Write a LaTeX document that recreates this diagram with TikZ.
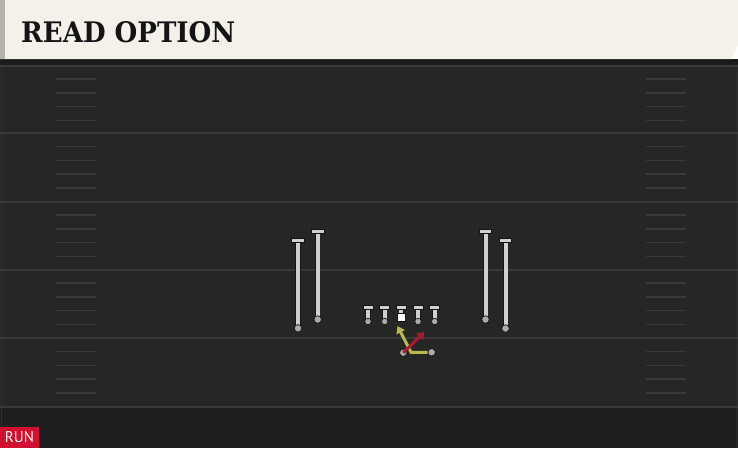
\documentclass[tikz,border=0pt]{standalone}
\usepackage{fontspec}
\usetikzlibrary{arrows.meta}
\newfontfamily\titlefont{DejaVu Serif}
\newfontfamily\runfont{PT Sans}
\definecolor{cream}{HTML}{F4F1EA}
\definecolor{stripgray}{HTML}{B4B2AC}
\definecolor{fieldbg}{HTML}{262626}
\definecolor{fieldlow}{HTML}{1F1F1F}
\definecolor{gapdark}{HTML}{1B1B1B}
\definecolor{yardcol}{HTML}{3A3A3A}
\definecolor{hashcol}{HTML}{3A3A3A}
\definecolor{runred}{HTML}{D0102E}
\definecolor{stemgray}{HTML}{D0D0D0}
\definecolor{ballgray}{HTML}{ABABAB}
\definecolor{outl}{HTML}{141414}
\definecolor{yroutecol}{HTML}{B9B950}
\definecolor{rroutecol}{HTML}{A51C30}
\begin{document}
\begin{tikzpicture}[x=1pt,y=-1pt,
  yardline/.style={draw=yardcol, line width=2pt},
  hashline/.style={draw=hashcol, line width=1.5pt},
  ball/.style={circle, fill=ballgray, draw=outl, line width=.7pt, minimum size=7.5pt, inner sep=0pt},
  smallball/.style={ball, minimum size=6.5pt},
  stemline/.style={draw=outl, line width=.7pt, double=stemgray, double distance=4pt},
  tbar/.style={rectangle, fill=stemgray, draw=outl, line width=.7pt, minimum width=12.5pt, minimum height=4.2pt, inner sep=0pt},
  smalltbar/.style={tbar, minimum width=10pt},
  centersq/.style={rectangle, fill=white, draw=outl, line width=.6pt, minimum size=7.5pt, inner sep=0pt},
  yroute/.style={draw=yroutecol, line width=3pt, -{Triangle[length=7pt,width=9pt]}},
  rroute/.style={draw=rroutecol, line width=3pt, -{Triangle[length=7pt,width=9pt]}},
  titlestyle/.style={inner sep=0pt, text=outl, font=\titlefont\bfseries},
  runbadge/.style={fill=runred, minimum width=39pt, minimum height=21pt, inner sep=0pt, text=white, font=\runfont}
]
\useasboundingbox (0,0) rectangle (738,448);
% field
\fill[gapdark] (0,59) rectangle (738,448);
\fill[fieldbg] (0,66) rectangle (738,407);
\fill[fieldlow] (0,407) rectangle (738,448);
\draw[draw=yardcol!45!fieldbg, line width=1pt] (1.5,66) -- (1.5,448);
\draw[draw=yardcol!45!fieldbg, line width=1pt] (736.5,66) -- (736.5,448);
\foreach \y in {65.5,133,201.5,269.5,338,407}
  \draw[yardline] (0,\y) -- (738,\y);
\foreach \y in {65.5,133,201.5,269.5,338}
  \foreach \k in {1,...,4} {
    \draw[hashline] (56,{\y+13.7*\k}) -- (96,{\y+13.7*\k});
    \draw[hashline] (646,{\y+13.7*\k}) -- (686,{\y+13.7*\k});
  }
% header
\fill[black!90] (0,59) rectangle (733,62);
\fill[cream] (0,0) -- (738,0) -- (738,45) -- (731,59) -- (0,59) -- cycle;
\fill[stripgray] (0,0) rectangle (5,59);
\node[titlestyle, anchor=base west] (title) at (21,42.5) {\resizebox{214pt}{21pt}{READ OPTION}};
% run badge
\node[runbadge] (run) at (19.5,437.5) {\resizebox{29pt}{11pt}{RUN}};
% receivers
\foreach \n/\x/\ty/\by in {wl1/298/240.5/328.3, wl2/317.7/231.3/319.5, wr1/485.5/231.3/319.5, wr2/505.5/240.5/328.5} {
  \coordinate (\n t) at (\x,\ty);
  \coordinate (\n b) at (\x,\by);
  \draw[stemline] (\n b) -- (\n t);
  \node[ball] (\n) at (\n b) {};
  \node[tbar] (\n bar) at (\n t) {};
}
% linemen
\foreach \n/\x in {lt/368, lg/384.7, rg/418, rt/434.7} {
  \coordinate (\n t) at (\x,307.5);
  \coordinate (\n b) at (\x,321.5);
  \draw[stemline] (\n b) -- (\n t);
  \node[smallball] (\n) at (\n b) {};
  \node[smalltbar] (\n bar) at (\n t) {};
}
% center
\coordinate (ct) at (401.4,307.5);
\node[centersq] (c) at (401.4,317.5) {};
\draw[stemline] (c.north) -- (ct);
\node[smalltbar] (cbar) at (ct) {};
% backs
\node[ball] (qb) at (403.3,352.7) {};
\node[ball] (rb) at (431.7,352.3) {};
\coordinate (yturn) at (411,352.3);
\coordinate (ytip) at (397.5,326);
\coordinate (rtip) at (424.5,332);
\draw[yroute] (rb) -- (yturn) -- (ytip);
\draw[rroute] (qb.center) -- (rtip);
\end{tikzpicture}
\end{document}
